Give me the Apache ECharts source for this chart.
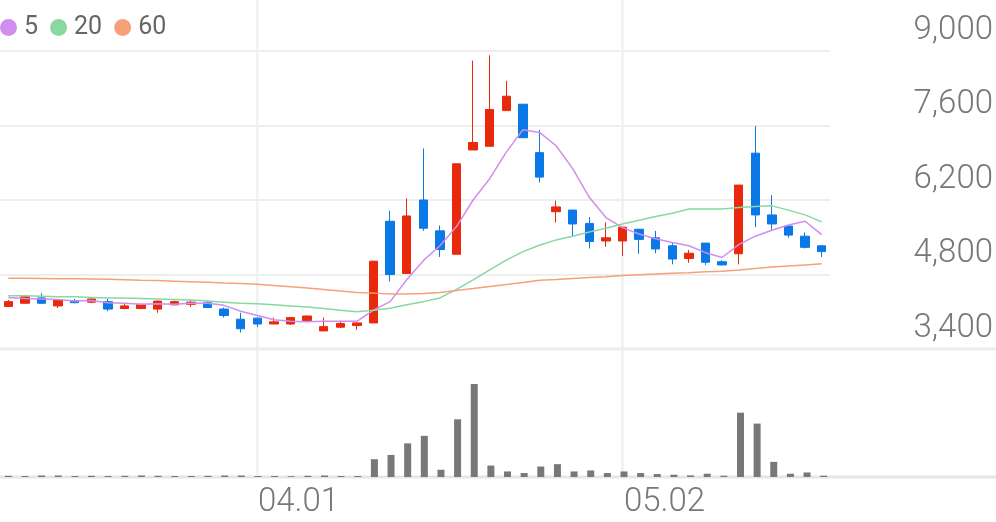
<!DOCTYPE html>
<html>
<head>
<meta charset="utf-8">
<script src="https://cdn.jsdelivr.net/npm/echarts@6/dist/echarts.min.js"></script>
<style>html,body{margin:0;padding:0;background:#fff}#c{width:996px;height:522px}</style>
</head>
<body>
<div id="c"></div>
<script>
const categories = ['03.11','03.12','03.13','03.14','03.17','03.18','03.19','03.20','03.21','03.24','03.25','03.26','03.27','03.28','03.31',
 '04.01','04.02','04.03','04.04','04.07','04.08','04.09','04.10','04.11','04.14','04.15','04.16','04.17','04.18','04.21','04.22','04.23','04.24','04.25','04.28','04.29','04.30',
 '05.02','05.07','05.08','05.09','05.12','05.13','05.14','05.15','05.16','05.19','05.20','05.21','05.22'];
const openPrices  = [4200,4260,4360,4210,4310,4280,4290,4160,4160,4150,4230,4240,4270,4150,3960,3980,3870,3870,3930,3740,3810,3840,3890,5800,4820,6200,5620,5180,7140,7210,7880,8000,7090,5980,6010,5760,5430,5430,5650,5490,5340,5100,5390,5040,5190,7080,5920,5710,5520,5340];
const closePrices = [4290,4380,4260,4320,4270,4340,4150,4210,4240,4300,4290,4280,4180,4030,3780,3870,3910,3990,4020,3820,3880,3890,5050,4800,5900,5670,5270,6880,7280,7900,8150,7370,6630,6070,5750,5420,5490,5690,5460,5280,5090,5200,5030,4980,6480,5920,5750,5540,5310,5230];
const lowPrices   = [4190,4260,4250,4170,4260,4260,4110,4150,4150,4080,4220,4190,4180,3990,3710,3810,3870,3850,3920,3740,3800,3760,3890,4670,4820,5620,5130,5180,7140,7210,7880,7370,6530,5780,5510,5290,5320,5150,5190,5200,4990,5020,4980,4970,4990,5690,5640,5490,5290,5130];
const highPrices  = [4320,4390,4450,4330,4340,4350,4340,4260,4250,4310,4310,4320,4310,4180,4080,3990,3990,3990,4030,3990,3930,3900,5060,6000,6230,7170,5720,6880,8820,8920,8440,8000,7520,6190,6020,5880,5780,5690,5660,5620,5390,5260,5390,5070,6480,7590,6290,5720,5590,5350];
const ma5  = [4370,4350,4340,4330,4300,4310,4270,4260,4240,4250,4240,4260,4260,4220,4110,4030,3950,3920,3910,3920,3920,3920,4130,4290,4700,5060,5340,5700,6200,6600,7100,7520,7470,7220,6790,6250,5870,5680,5560,5470,5400,5340,5210,5120,5360,5520,5630,5730,5800,5550];
const ma20 = [4400,4400,4390,4380,4380,4370,4360,4360,4350,4340,4330,4320,4300,4280,4260,4250,4230,4210,4190,4160,4130,4100,4130,4165,4230,4290,4360,4520,4700,4885,5070,5230,5350,5450,5520,5600,5670,5750,5820,5890,5950,6030,6030,6030,6060,6080,6090,6010,5920,5790];
const ma60 = [4730,4730,4725,4720,4720,4715,4710,4700,4690,4685,4675,4665,4655,4640,4630,4615,4595,4570,4545,4520,4490,4460,4450,4435,4435,4445,4460,4500,4535,4575,4610,4650,4690,4705,4725,4745,4760,4780,4795,4810,4825,4835,4850,4860,4885,4915,4940,4960,4980,5000];
const volumes = [12,10,15,15,10,12,10,12,15,12,10,10,12,15,15,10,10,8,12,15,10,10,180,223,340,416,73,583,940,116,56,40,106,130,56,66,40,56,40,30,23,16,33,13,650,540,153,33,46,13];
const shownDates = ['04.01','05.02'];
const priceTicks = {min: 3400, max: 9000, step: 1400};
const maNames = ['5','20','60'];

const UP = '#e8290b', DOWN = '#0b78e8';
const MA_COLORS = ['#cf8ef0', '#88d8a0', '#f6a07a'];
const FONT = 'Roboto';

const candleData = categories.map((_, i) => [openPrices[i], closePrices[i], lowPrices[i], highPrices[i]]);

const chart = echarts.init(document.getElementById('c'), null, {renderer: 'canvas'});
const option = {
  animation: false,
  backgroundColor: '#fff',
  legend: {
    data: maNames,
    left: 0, top: 15, padding: 0,
    icon: 'circle', itemWidth: 17, itemHeight: 17, itemGap: 12,
    textStyle: {fontFamily: FONT, fontSize: 25, color: '#666', padding: [0, 0, 0, 2]}
  },
  grid: [
    {left: 0, right: 164, top: 51, height: 298},
    {left: 0, right: 164, top: 384, height: 93}
  ],
  xAxis: [
    {type: 'category', gridIndex: 0, data: categories, boundaryGap: true,
     axisLine: {show: false}, axisTick: {show: false}, axisLabel: {show: false}, splitLine: {show: false}},
    {type: 'category', gridIndex: 1, data: categories, boundaryGap: true,
     axisLine: {show: false}, axisTick: {show: false}, splitLine: {show: false},
     axisLabel: {show: true, interval: (idx, val) => shownDates.includes(val), align: 'left',
       fontFamily: FONT, fontWeight: 300, fontSize: 33, color: '#777', margin: 9}}
  ],
  yAxis: [
    {type: 'value', gridIndex: 0, position: 'right', min: priceTicks.min, max: priceTicks.max, interval: priceTicks.step,
     axisLine: {show: false}, axisTick: {show: false},
     splitLine: {show: true, lineStyle: {color: '#eeeeee', width: 2}},
     axisLabel: {fontFamily: FONT, fontWeight: 300, fontSize: 33, color: '#777', align: 'right', margin: 163,
       verticalAlign: 'bottom', padding: [0, 0, 4, 0],
       formatter: v => v.toLocaleString('en-US')}},
    {type: 'value', gridIndex: 1, min: 0, max: 'dataMax', show: false}
  ],
  series: [
    {type: 'candlestick', name: 'price', xAxisIndex: 0, yAxisIndex: 0, data: candleData, barWidth: 9,
     itemStyle: {color: UP, color0: DOWN, borderColor: UP, borderColor0: DOWN, borderWidth: 1}},
    {type: 'line', name: maNames[0], xAxisIndex: 0, yAxisIndex: 0, data: ma5, symbol: 'none',
     lineStyle: {color: MA_COLORS[0], width: 1.5}, itemStyle: {color: MA_COLORS[0]}, z: 3},
    {type: 'line', name: maNames[1], xAxisIndex: 0, yAxisIndex: 0, data: ma20, symbol: 'none',
     lineStyle: {color: MA_COLORS[1], width: 1.5}, itemStyle: {color: MA_COLORS[1]}, z: 3},
    {type: 'line', name: maNames[2], xAxisIndex: 0, yAxisIndex: 0, data: ma60, symbol: 'none',
     lineStyle: {color: MA_COLORS[2], width: 1.5}, itemStyle: {color: MA_COLORS[2]}, z: 3},
    {type: 'bar', name: 'volume', xAxisIndex: 1, yAxisIndex: 1, data: volumes, barWidth: 7,
     itemStyle: {color: '#787878'}}
  ]
};
chart.setOption(option);

// Decorative separator lines located through the library's own scales
const W = 996;
const yPriceBase = chart.convertToPixel({yAxisIndex: 0}, priceTicks.min);
const yVolBase = chart.convertToPixel({yAxisIndex: 1}, 0);
const graphics = [
  {type: 'line', z: -1, shape: {x1: 0, y1: yPriceBase, x2: W, y2: yPriceBase}, style: {stroke: '#ececec', lineWidth: 3}},
  {type: 'line', z: -1, shape: {x1: 0, y1: yVolBase, x2: W, y2: yVolBase}, style: {stroke: '#e6e6e6', lineWidth: 3}}
];
shownDates.forEach(d => {
  const x = chart.convertToPixel({xAxisIndex: 0}, d);
  graphics.push({type: 'line', z: -1, shape: {x1: x, y1: 0, x2: x, y2: yVolBase}, style: {stroke: '#eeeeee', lineWidth: 2}});
});
chart.setOption({graphic: graphics});
</script>
</body>
</html>
